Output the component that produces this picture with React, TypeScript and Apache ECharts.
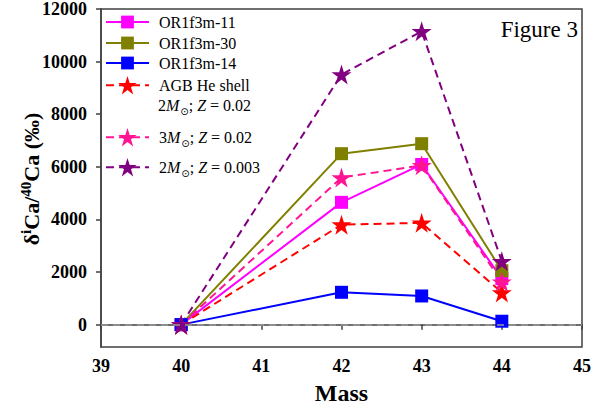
import React, { useEffect, useRef } from "react";
import * as echarts from "echarts";

const masses = [40, 42, 43, 44];
const or11 = [0, 4650, 6090, 1750];
const or30 = [0, 6500, 6880, 2050];
const or14 = [0, 1230, 1090, 130];
const agb2m002 = [0, 3800, 3870, 1220];
const agb3m002 = [0, 5590, 6060, 1630];
const agb2m0003 = [0, 9510, 11150, 2410];
const yTicks = [0, 2000, 4000, 6000, 8000, 10000, 12000];
const xTicks = [39, 40, 41, 42, 43, 44, 45];

const FONT = "Liberation Serif";

function starPath() {
  let d = "";
  for (let i = 0; i < 10; i++) {
    const r = i % 2 ? 19 : 50;
    const a = -Math.PI / 2 + (i * Math.PI) / 5;
    const x = 50 + r * Math.cos(a);
    const y = 50 + r * Math.sin(a);
    d += (i ? "L" : "M") + x.toFixed(2) + " " + y.toFixed(2) + " ";
  }
  return "path://" + d + "Z";
}
const STAR = starPath();

const pair = (vals: number[]) => masses.map((m, i) => [m, vals[i]]);

const seriesDefs = [
  { name: "OR1f3m-11", data: or11, color: "#FF00FF", symbol: "rect", size: 13, dash: "solid" },
  { name: "OR1f3m-30", data: or30, color: "#808000", symbol: "rect", size: 13, dash: "solid" },
  { name: "OR1f3m-14", data: or14, color: "#0000FF", symbol: "rect", size: 13, dash: "solid" },
  { name: "AGB He shell", data: agb2m002, color: "#FF0000", symbol: STAR, size: 20, dash: [8, 5] },
  { name: "3M Z0.02", data: agb3m002, color: "#FF1493", symbol: STAR, size: 20, dash: [8, 5] },
  { name: "2M Z0.003", data: agb2m0003, color: "#800080", symbol: STAR, size: 20, dash: [8, 5] },
];

const legendTops = [14, 35, 55, 76, 128, 158];
const legendHeights = [16, 16, 16, 23, 23, 23];
const legendLabels: Record<string, string> = {
  "OR1f3m-11": "{n|OR1f3m-11}",
  "OR1f3m-30": "{n|OR1f3m-30}",
  "OR1f3m-14": "{n|OR1f3m-14}",
  "AGB He shell": "{n|AGB He shell}",
  "3M Z0.02": "{n|3}{m|M}{s|⊙}{n|; }{m|Z}{n| = 0.02}",
  "2M Z0.003": "{n|2}{m|M}{s|⊙}{n|; }{m|Z}{n| = 0.003}",
};

const richSub = {
  n: { fontFamily: FONT, fontSize: 16, color: "#000", fill: "#000" },
  m: { fontFamily: FONT, fontSize: 16, fontStyle: "italic", color: "#000", fill: "#000" },
  s: { fontFamily: "DejaVu Sans", fontSize: 10, color: "#000", fill: "#000", padding: [12, 0, 0, 1] },
};

const tickRich = {
  t: { fontFamily: FONT, fontSize: 18, fontWeight: "bold", color: "#000" },
};

export default function App() {
  const ref = useRef<HTMLDivElement>(null);
  useEffect(() => {
    if (!ref.current) return;
    const chart = echarts.init(ref.current, null, { renderer: "svg" });
    const series: any[] = seriesDefs.map((s, idx) => ({
      name: s.name,
      type: "line",
      data: pair(s.data),
      symbol: s.symbol,
      symbolSize: s.size,
      lineStyle: { color: s.color, width: 2, type: s.dash },
      itemStyle: { color: s.color },
      ...(idx === 0
        ? {
            markLine: {
              silent: true,
              symbol: "none",
              label: { show: false },
              lineStyle: { color: "#999999", type: [7, 5], width: 1.5 },
              data: [{ yAxis: 0 }],
            },
          }
        : {}),
    }));
    const legends = seriesDefs.map((s, i) => ({
      data: [s.name],
      left: 105,
      top: legendTops[i],
      padding: 0,
      itemWidth: 43,
      itemHeight: legendHeights[i],
      selectedMode: false,
      formatter: (n: string) => legendLabels[n],
      textStyle: {
        fontFamily: FONT,
        fontSize: 16,
        color: "#000",
        padding: [0, 0, 0, 5],
        rich: richSub,
      },
    }));
    chart.setOption({
      animation: false,
      textStyle: { fontFamily: FONT },
      grid: {
        left: 101,
        right: 9,
        top: 8,
        bottom: 61,
        show: true,
        borderColor: "#404040",
        borderWidth: 1.5,
      },
      legend: legends,
      xAxis: {
        type: "value",
        min: 39,
        max: 45,
        interval: 1,
        name: "Mass",
        nameLocation: "middle",
        nameGap: 34,
        nameTextStyle: { fontFamily: FONT, fontSize: 24, fontWeight: "bold", color: "#000" },
        axisLine: { lineStyle: { color: "#404040", width: 1.5 } },
        axisTick: { show: true, length: 5, lineStyle: { color: "#404040", width: 1.5 }, customValues: xTicks },
        axisLabel: {
          fontFamily: FONT,
          fontSize: 18,
          fontWeight: "bold",
          color: "#000",
          margin: 10,
          customValues: xTicks,
          formatter: (v: number) => "{t|" + v + "}",
          rich: tickRich,
        },
        splitLine: { show: false },
      },
      yAxis: {
        type: "value",
        min: -850,
        max: 12000,
        axisLine: { show: true, lineStyle: { color: "#404040", width: 1.5 } },
        axisTick: { show: true, length: 5, lineStyle: { color: "#404040", width: 1.5 }, customValues: yTicks },
        axisLabel: {
          fontFamily: FONT,
          fontSize: 18,
          fontWeight: "bold",
          color: "#000",
          margin: 14,
          customValues: yTicks,
          formatter: (v: number) => "{t|" + v + "}",
          rich: tickRich,
        },
        splitLine: { show: false },
      },
      graphic: [
        {
          type: "text",
          left: 158,
          top: 97,
          style: {
            text: "{n|2}{m|M}{s|⊙}{n|; }{m|Z}{n| = 0.02}",
            fontFamily: FONT,
            fontSize: 16,
            fill: "#000",
            rich: richSub,
          },
        },
        {
          type: "text",
          x: 578,
          y: 29,
          style: {
            text: "Figure 3",
            fontFamily: FONT,
            fontSize: 23,
            fill: "#000",
            align: "right",
            verticalAlign: "middle",
          },
        },
        {
          type: "text",
          x: 31,
          y: 179,
          rotation: Math.PI / 2,
          style: {
            text: "{b|δ}{sup|i}{b|Ca/}{sup|40}{b|Ca (‰)}",
            align: "center",
            verticalAlign: "middle",
            rich: {
              b: { fontFamily: FONT, fontSize: 22, fontWeight: "bold", fill: "#000" },
              sup: {
                fontFamily: FONT,
                fontSize: 15,
                fontWeight: "bold",
                fill: "#000",
                padding: [0, 0, 10, 0],
              },
            },
          },
        },
      ],
      series,
    });
    return () => chart.dispose();
  }, []);
  return (
    <div
      ref={ref}
      style={{ position: "absolute", left: 0, top: 0, width: 594, height: 410 }}
    />
  );
}
